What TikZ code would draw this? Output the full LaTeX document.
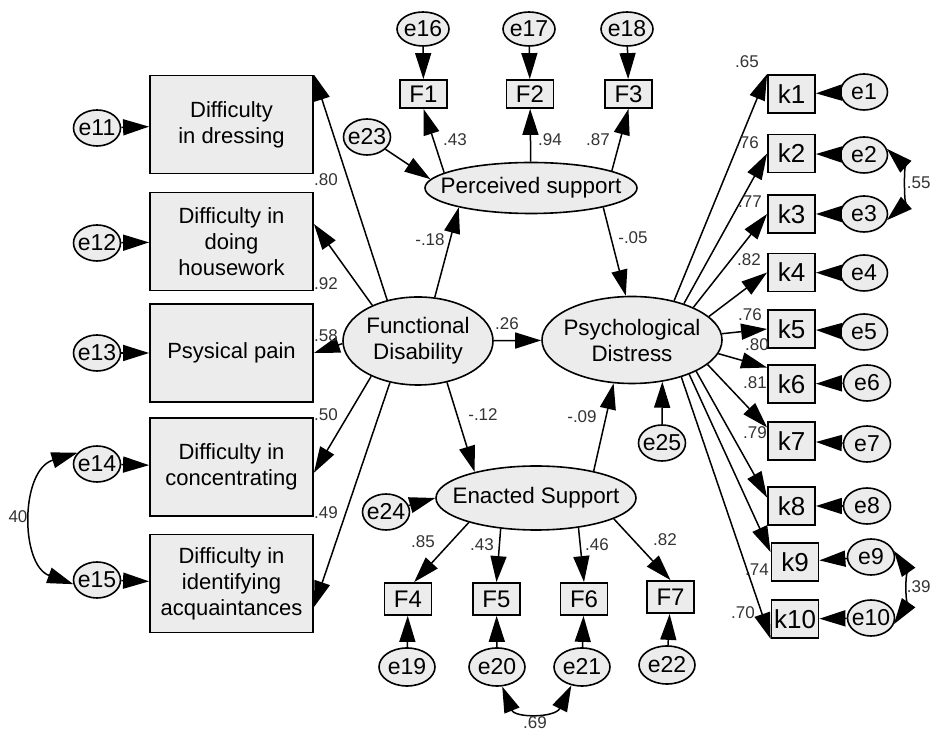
\documentclass[tikz,border=0pt]{standalone}
\usepackage{fontspec}
\setmainfont{Liberation Sans}
\usetikzlibrary{arrows.meta,shapes.geometric}

\begin{document}
\begin{tikzpicture}[x=0.5pt,y=-0.5pt,
    >={Triangle[length=13pt,width=8pt]},
    obs/.style={draw, line width=0.9pt, fill=gray!15, minimum width=81.5pt, minimum height=49pt, align=center, font=\fontsize{11}{13}\selectfont},
    ind/.style={draw, line width=0.9pt, fill=gray!15, minimum width=23.5pt, minimum height=14pt, inner sep=0pt, font=\fontsize{12}{14}\selectfont},
    kbox/.style={ind, minimum height=19pt, font=\fontsize{13}{15}\selectfont},
    lat/.style={ellipse, draw, line width=0.8pt, fill=gray!15, inner xsep=-20pt, inner ysep=0pt, align=center, font=\fontsize{11.2}{13}\selectfont},
    err/.style={ellipse, draw, line width=0.8pt, fill=gray!15, inner xsep=-3pt, inner ysep=0pt, minimum width=23.5pt, minimum height=18pt, font=\fontsize{11.5}{13}\selectfont},
    wt/.style={inner sep=0pt, text=black!80, font=\fontsize{8.5}{10}\selectfont},
    reg/.style={->, line width=0.75pt},
    cov/.style={<->, line width=0.75pt}]
    \useasboundingbox (0,0) rectangle (933,731);

    \draw (231.5,124.5) node[obs] (d1) {Difficulty\\in dressing};
    \draw (231.5,241.5) node[obs] (d2) {Difficulty in\\doing\\housework};
    \draw (231.5,353) node[obs] (d3) {Psysical pain};
    \draw (231.5,467) node[obs] (d4) {Difficulty in\\concentrating};
    \draw (231.5,583.5) node[obs] (d5) {Difficulty in\\identifying\\acquaintances};

    \draw (97,128) node[err] (e11) {e11};
    \draw (97,243) node[err] (e12) {e12};
    \draw (97,353) node[err] (e13) {e13};
    \draw (97,464) node[err] (e14) {e14};
    \draw (97,580) node[err] (e15) {e15};

    \draw (418,341) node[lat, minimum width=75pt, minimum height=44pt] (fd) {Functional\\Disability};
    \draw (632,340) node[lat, minimum width=90pt, minimum height=43.5pt] (pd) {Psychological\\Distress};
    \draw (531,188) node[lat, minimum width=106pt, minimum height=25.5pt] (ps) {Perceived support};
    \draw (536,498) node[lat, minimum width=100pt, minimum height=32pt] (es) {Enacted Support};

    \draw (423.5,94) node[ind] (f1) {F1};
    \draw (530,94) node[ind] (f2) {F2};
    \draw (628.5,94) node[ind] (f3) {F3};
    \draw (408,599) node[ind, minimum height=16pt] (f4) {F4};
    \draw (496.5,599) node[ind, minimum height=16pt] (f5) {F5};
    \draw (584,599) node[ind, minimum height=16pt] (f6) {F6};
    \draw (670.5,597) node[ind, minimum height=16pt] (f7) {F7};

    \draw (423,29) node[err, minimum width=26pt, minimum height=17pt] (e16) {e16};
    \draw (529,29) node[err, minimum width=26pt, minimum height=17pt] (e17) {e17};
    \draw (627,29) node[err, minimum width=26pt, minimum height=17pt] (e18) {e18};
    \draw (367,137) node[err] (e23) {e23};
    \draw (386,512) node[err] (e24) {e24};
    \draw (662,443) node[err] (e25) {e25};
    \draw (407,667) node[err, minimum width=28pt, minimum height=19pt] (e19) {e19};
    \draw (497,667) node[err, minimum width=28pt, minimum height=19pt] (e20) {e20};
    \draw (582,667) node[err, minimum width=28pt, minimum height=19pt] (e21) {e21};
    \draw (667,665) node[err, minimum width=28pt, minimum height=19pt] (e22) {e22};

    \draw (791.5,94) node[kbox] (k1) {k1};
    \draw (791.5,153.5) node[kbox] (k2) {k2};
    \draw (791.5,214) node[kbox] (k3) {k3};
    \draw (791.5,272.5) node[kbox] (k4) {k4};
    \draw (791.5,329) node[kbox] (k5) {k5};
    \draw (791.5,384) node[kbox] (k6) {k6};
    \draw (791.5,441) node[kbox] (k7) {k7};
    \draw (791.5,506) node[kbox] (k8) {k8};
    \draw (795,562) node[kbox] (k9) {k9};
    \draw (795,619) node[kbox] (k10) {k10};

    \draw (864,92) node[err] (e1) {e1};
    \draw (864,155) node[err] (e2) {e2};
    \draw (864,214) node[err] (e3) {e3};
    \draw (864,273) node[err] (e4) {e4};
    \draw (864,332) node[err] (e5) {e5};
    \draw (867,383) node[err] (e6) {e6};
    \draw (867,444) node[err] (e7) {e7};
    \draw (867,506) node[err] (e8) {e8};
    \draw (871,557) node[err] (e9) {e9};
    \draw (871,618) node[err] (e10) {e10};

    \draw[reg] (e11) -- (d1);
    \draw[reg] (e12) -- (d2);
    \draw[reg] (e13) -- (d3);
    \draw[reg] (e14) -- (d4);
    \draw[reg] (e15) -- (d5);
    \draw[reg] (fd.127) -- (d1.north east);
    \draw[reg] (fd.142) -- (d2.12);
    \draw[reg] (fd.182) -- (d3.east);
    \draw[reg] (fd.217) -- (d4.-4);
    \draw[reg] (fd.236) -- (d5.-16);

    \draw[reg] (fd) -- (pd);
    \draw[reg] (fd.69) -- (ps.195);
    \draw[reg] (ps.-15) -- (pd.98);
    \draw[reg] (fd.-55) -- (es.157);
    \draw[reg] (es.25) -- (pd.247);
    \draw[reg] (e25.north) -- (pd.-54);

    \draw[reg] (ps.170) -- (f1.south);
    \draw[reg] (ps) -- (f2);
    \draw[reg] (ps.12) -- (f3.south);
    \draw[reg] (e16) -- (f1);
    \draw[reg] (e17) -- (f2);
    \draw[reg] (e18) -- (f3);
    \draw[reg] (e23) -- (ps.175);

    \draw[reg] (es.200) -- (f4.70);
    \draw[reg] (es.221) -- (f5.north);
    \draw[reg] (es.-35) -- (f6.north);
    \draw[reg] (es.-15) -- (f7.north);
    \draw[reg] (e19) -- (f4);
    \draw[reg] (e20) -- (f5);
    \draw[reg] (e21) -- (f6);
    \draw[reg] (e22) -- (f7);
    \draw[reg] (e24) -- (es.west);

    \draw[reg] (pd.43) -- (k1.north west);
    \draw[reg] (pd.35) -- (k2.west);
    \draw[reg] (pd.28) -- (k3.west);
    \draw[reg] (pd.17) -- (k4.west);
    \draw[reg] (pd.4) -- (k5.west);
    \draw[reg] (pd.-9) -- (k6.146);
    \draw[reg] (pd.-18) -- (k7.151);
    \draw[reg] (pd.-26) -- (k8.161);
    \draw[reg] (pd.-31) -- (k9.158);
    \draw[reg] (pd.-37) -- (k10.south west);
    \draw[reg] (e1) -- (k1);
    \draw[reg] (e2) -- (k2);
    \draw[reg] (e3) -- (k3);
    \draw[reg] (e4) -- (k4);
    \draw[reg] (e5) -- (k5);
    \draw[reg] (e6) -- (k6);
    \draw[reg] (e7) -- (k7);
    \draw[reg] (e8) -- (k8);
    \draw[reg] (e9) -- (k9);
    \draw[reg] (e10) -- (k10);

    \draw[cov] (e14.150) .. controls (20,470) and (20,565) .. (e15.190);
    \draw[cov] (e2.15) .. controls (904,165) and (904,205) .. (e3.-15);
    \draw[cov] (e9.15) .. controls (905,567) and (905,608) .. (e10.-15);
    \draw[cov] (e20.-75) .. controls (515,718) and (555,718) .. (e21.-120);

    \draw (326,180) node[wt] (w11) {.80};
    \draw (326,284) node[wt] (w12) {.92};
    \draw (326,336) node[wt] (w13) {.58};
    \draw (326,415) node[wt] (w14) {.50};
    \draw (326,513) node[wt] (w15) {.49};
    \draw (507,324) node[wt] (wfp) {.26};
    \draw (430,240) node[wt] (wfs) {-.18};
    \draw (633,238) node[wt] (wsp) {-.05};
    \draw (483,415) node[wt] (wfe) {-.12};
    \draw (582,417) node[wt] (wep) {-.09};
    \draw (455,140) node[wt] (wf1) {.43};
    \draw (550,140) node[wt] (wf2) {.94};
    \draw (598,140) node[wt] (wf3) {.87};
    \draw (423,542) node[wt] (wf4) {.85};
    \draw (482,545) node[wt] (wf5) {.43};
    \draw (597,545) node[wt] (wf6) {.46};
    \draw (665,540) node[wt] (wf7) {.82};
    \draw (747,62) node[wt] (wk1) {.65};
    \draw (747,143) node[wt] (wk2) {.76};
    \draw (750,202) node[wt] (wk3) {.77};
    \draw (749,260) node[wt] (wk4) {.82};
    \draw (750,315) node[wt] (wk5) {.76};
    \draw (757,345) node[wt] (wk6) {.80};
    \draw (755,383) node[wt] (wk7) {.81};
    \draw (755,433) node[wt] (wk8) {.79};
    \draw (757,570) node[wt] (wk9) {.74};
    \draw (743,613) node[wt] (wk10) {.70};
    \draw (18,517) node[wt] (c1415) {40};
    \draw (931,183) node[wt, anchor=east] (c23) {.55};
    \draw (931,587) node[wt, anchor=east] (c910) {.39};
    \draw (535,723) node[wt] (c2021) {.69};
\end{tikzpicture}
\end{document}
